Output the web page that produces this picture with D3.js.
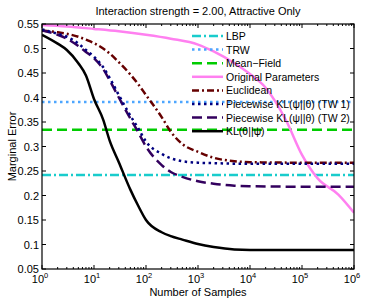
<!DOCTYPE html>
<html>
<head>
<meta charset="utf-8">
<script src="https://cdn.jsdelivr.net/npm/d3@7"></script>
<style>
body{margin:0;background:#fff;}
text{font-family:"Liberation Sans",Arial,sans-serif;}
</style>
</head>
<body>
<div id="chart"></div>
<script>
// sample counts where the curves were read
var nSamples = [1,2,3,5,7,10,15,20,30,50,70,100,200,300,500,1000,2000,5000,1e4,1e5,1e6]
var klTheta  = [0.528,0.51,0.497,0.47,0.445,0.397,0.355,0.312,0.268,0.212,0.18,0.15,0.125,0.117,0.11,0.101,0.095,0.09,0.089,0.089,0.089]
var tw1      = [0.539,0.53,0.524,0.51,0.497,0.483,0.462,0.44,0.405,0.363,0.338,0.31,0.285,0.276,0.27,0.267,0.266,0.265,0.265,0.265,0.265]
var tw2      = [0.537,0.528,0.52,0.505,0.493,0.48,0.458,0.435,0.4,0.357,0.33,0.3,0.262,0.248,0.238,0.229,0.224,0.22,0.219,0.218,0.218]
var eucl     = [0.537,0.533,0.53,0.524,0.518,0.511,0.5,0.49,0.472,0.447,0.428,0.405,0.36,0.33,0.305,0.289,0.277,0.27,0.268,0.267,0.267]
var nOrig    = [1,3,10,30,100,300,1000,2000,5000,1e4,2e4,5e4,1e5,2e5,5e5,1e6]
var orig     = [0.548,0.545,0.54,0.535,0.528,0.52,0.508,0.494,0.47,0.448,0.42,0.352,0.283,0.235,0.202,0.165]
var lbp = 0.242, trw = 0.391, meanField = 0.334

var yTicks = [0.05,0.1,0.15,0.2,0.25,0.3,0.35,0.4,0.45,0.5,0.55]
var yLabels = ["0.05","0.1","0.15","0.2","0.25","0.3","0.35","0.4","0.45","0.5","0.55"]
var xTicks = [1,10,100,1000,1e4,1e5,1e6]
var xExp = ["0","1","2","3","4","5","6"]

var legendNames = ["LBP","TRW","Mean\u2212Field","Original Parameters","Euclidean",
  "Piecewise KL(\u03c8||\u03b8) (TW 1)","Piecewise KL(\u03c8||\u03b8) (TW 2)","KL(\u03b8||\u03c8)"]
var colors = ["#19cccc","#4da6ff","#00cc00","#ff80f0","#660000","#000080","#33005e","#000000"]
var dashes = ["9,3,2,3","2.5,3.5","10,5","none","7,3,2,3","2.5,3.5","10,5","none"]

var width = 366, height = 302
var pL = 42, pR = 354, pT = 24, pB = 269

var svg = d3.select("#chart").append("svg")
  .attr("width",width).attr("height",height)

var x = d3.scaleLog().domain([1,1e6]).range([pL,pR])
var y = d3.scaleLinear().domain([0.05,0.55]).range([pB,pT])

var line = d3.line()
  .curve(d3.curveMonotoneX)
  .x(function(d){return x(d[0])})
  .y(function(d){return y(d[1])})

svg.append("clipPath").attr("id","clip").append("rect")
  .attr("x",pL).attr("y",pT).attr("width",pR-pL).attr("height",pB-pT)
var g = svg.append("g").attr("clip-path","url(#clip)")

// flat lines first, then curves
function hline(v,i){
  g.append("line").attr("x1",pL).attr("x2",pR).attr("y1",y(v)).attr("y2",y(v))
    .attr("stroke",colors[i]).attr("stroke-width",2.5).attr("stroke-dasharray",dashes[i])
}
hline(lbp,0); hline(trw,1); hline(meanField,2)

function curve(xs,ys,i){
  g.append("path").datum(d3.zip(xs,ys)).attr("d",line)
    .attr("fill","none").attr("stroke",colors[i]).attr("stroke-width",2.5)
    .attr("stroke-dasharray",dashes[i])
}
curve(nOrig,orig,3)
curve(nSamples,eucl,4)
curve(nSamples,tw2,6)
curve(nSamples,tw1,5)
curve(nSamples,klTheta,7)

// box + inward ticks on all sides
var axes = svg.append("g").attr("stroke","#000").attr("stroke-width",1)
yTicks.forEach(function(t){
  axes.append("line").attr("x1",pL).attr("x2",pL+4).attr("y1",y(t)).attr("y2",y(t))
  axes.append("line").attr("x1",pR).attr("x2",pR-4).attr("y1",y(t)).attr("y2",y(t))
})
for(var e=0;e<6;e++){
  for(var m=2;m<10;m++){
    var v = m*Math.pow(10,e)
    axes.append("line").attr("x1",x(v)).attr("x2",x(v)).attr("y1",pB).attr("y2",pB-2)
    axes.append("line").attr("x1",x(v)).attr("x2",x(v)).attr("y1",pT).attr("y2",pT+2)
  }
}
xTicks.forEach(function(t){
  axes.append("line").attr("x1",x(t)).attr("x2",x(t)).attr("y1",pB).attr("y2",pB-4)
  axes.append("line").attr("x1",x(t)).attr("x2",x(t)).attr("y1",pT).attr("y2",pT+4)
})
svg.append("rect").attr("x",pL).attr("y",pT).attr("width",pR-pL).attr("height",pB-pT)
  .attr("fill","none").attr("stroke","#000").attr("stroke-width",1.2)

// tick labels
yTicks.forEach(function(t,i){
  svg.append("text").attr("x",pL-3).attr("y",y(t)+4).attr("text-anchor","end")
    .attr("font-size",11).text(yLabels[i])
})
xTicks.forEach(function(t,i){
  var tx = svg.append("text").attr("x",x(t)-2).attr("y",pB+14).attr("text-anchor","middle")
    .attr("font-size",11)
  tx.append("tspan").text("10")
  tx.append("tspan").attr("dy",-5).attr("font-size",7.5).text(xExp[i])
})

svg.append("text").attr("x",(pL+pR)/2).attr("y",296).attr("text-anchor","middle")
  .attr("font-size",11).text("Number of Samples")
svg.append("text").attr("transform","translate(16,"+((pT+pB)/2)+") rotate(-90)")
  .attr("text-anchor","middle").attr("font-size",11).text("Marginal Error")
svg.append("text").attr("x",(pL+pR)/2).attr("y",15).attr("text-anchor","middle")
  .attr("font-size",11).text("Interaction strength = 2.00, Attractive Only")

// legend, no box
var leg = svg.append("g").attr("transform","translate(192,36)")
legendNames.forEach(function(name,i){
  var ly = i*13.6
  leg.append("line").attr("x1",0).attr("x2",31).attr("y1",ly).attr("y2",ly)
    .attr("stroke",colors[i]).attr("stroke-width",2.5).attr("stroke-dasharray",dashes[i])
  leg.append("text").attr("x",34).attr("y",ly+4).attr("font-size",10.5).text(name)
})
</script>
</body>
</html>
